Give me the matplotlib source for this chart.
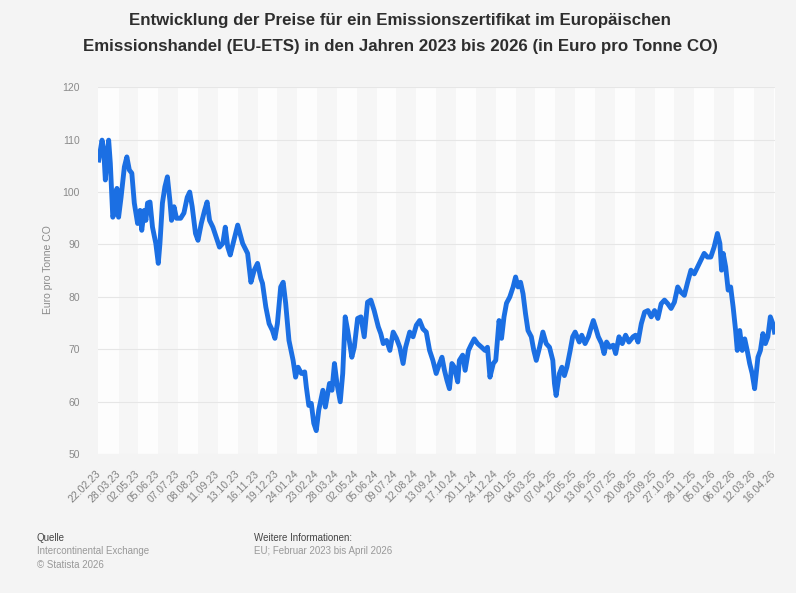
import numpy as np
import matplotlib
matplotlib.use("Agg")
from matplotlib import pyplot as plt
from matplotlib import font_manager

# Handelstag (Index ab 22.02.2023) und Preis in Euro pro Tonne
handelstag = [
    0, 4, 6, 8, 10, 12, 14, 17, 19, 22,
    24, 27, 31, 34, 37, 40, 43, 47, 50, 52,
    55, 57, 59, 62, 65, 69, 72, 74, 77, 80,
    83, 86, 88, 91, 94, 99, 103, 107, 110, 113,
    117, 120, 124, 128, 131, 134, 138, 142, 146, 150,
    153, 156, 159, 168, 174, 180, 184, 188, 192, 196,
    198, 202, 206, 210, 213, 216, 220, 223, 226, 230,
    235, 238, 241, 245, 249, 251, 254, 257, 260, 263,
    266, 271, 274, 279, 282, 285, 288, 292, 295, 298,
    301, 306, 309, 313, 317, 321, 325, 329, 333, 338,
    341, 344, 348, 352, 356, 360, 364, 368, 371, 376,
    380, 384, 388, 392, 396, 400, 404, 408, 412, 415,
    418, 421, 424, 427, 430, 434, 436, 440, 443, 447,
    450, 454, 458, 463, 467, 470, 473, 477, 480, 484,
    487, 490, 493, 497, 501, 504, 507, 510, 513, 516,
    519, 523, 526, 529, 533, 537, 541, 545, 549, 551,
    553, 557, 560, 563, 566, 570, 573, 576, 581, 584,
    588, 592, 595, 598, 601, 604, 608, 611, 614, 618,
    622, 625, 629, 633, 637, 641, 646, 649, 652, 656,
    660, 664, 668, 672, 676, 680, 684, 688, 692, 696,
    700, 704, 708, 712, 716, 720, 724, 728, 732, 736,
    740, 744, 748, 751, 753, 755, 758, 761, 764, 767,
    770, 772, 775, 778, 781, 784, 787, 790, 793, 797,
    800, 803, 806, 809, 812, 815, 817,
]
preis = [
    106.1, 109.9, 108.0, 102.3, 106.7, 109.9, 105.5, 95.2, 96.0, 100.7,
    95.2, 99.0, 104.8, 106.7, 104.2, 103.6, 97.9, 94.0, 96.5, 92.7,
    96.5, 94.6, 97.9, 98.1, 93.3, 90.2, 86.4, 90.2, 97.9, 101.0,
    102.9, 98.4, 94.6, 97.2, 95.0, 95.0, 96.0, 99.0, 100.0, 97.2,
    92.1, 90.8, 94.0, 96.5, 98.1, 94.6, 93.3, 91.4, 89.5, 90.2,
    93.3, 89.5, 88.0, 93.7, 90.2, 88.3, 82.8, 85.1, 86.4, 83.5,
    82.6, 78.1, 74.9, 73.6, 72.1, 74.9, 81.9, 82.8, 78.8, 71.7,
    67.9, 64.7, 66.6, 65.4, 65.7, 62.8, 59.3, 59.7, 55.9, 54.5,
    58.4, 62.2, 59.0, 63.5, 62.2, 67.3, 63.5, 60.0, 65.4, 76.2,
    73.6, 68.5, 70.4, 75.9, 76.2, 72.4, 79.0, 79.4, 77.4, 74.3,
    73.0, 71.1, 71.7, 69.8, 73.3, 72.1, 70.4, 67.3, 70.4, 73.3,
    72.4, 74.6, 75.5, 73.9, 73.3, 69.8, 67.9, 65.4, 67.3, 68.5,
    66.0, 64.1, 62.5, 67.3, 66.6, 63.8, 67.9, 68.9, 66.0, 69.8,
    70.8, 72.0, 71.1, 70.4, 69.8, 70.4, 64.7, 67.3, 67.9, 75.5,
    72.1, 76.2, 78.8, 80.0, 81.9, 83.8, 81.9, 82.8, 80.6, 76.8,
    73.6, 72.4, 69.8, 67.9, 70.4, 73.3, 71.1, 70.4, 67.9, 63.5,
    61.2, 65.4, 66.6, 65.0, 66.6, 69.8, 72.4, 73.3, 71.4, 72.7,
    71.1, 72.4, 74.0, 75.5, 74.0, 72.4, 71.1, 69.2, 71.4, 70.4,
    70.8, 69.2, 72.4, 71.1, 72.7, 71.4, 72.4, 72.7, 71.4, 74.9,
    77.1, 77.4, 76.2, 77.4, 75.9, 78.7, 79.4, 78.7, 77.8, 79.0,
    81.9, 80.9, 80.3, 82.8, 85.1, 84.4, 85.7, 87.0, 88.3, 87.6,
    87.6, 89.5, 92.1, 90.2, 85.1, 88.3, 85.7, 81.3, 81.9, 78.1,
    73.6, 69.8, 73.6, 69.8, 72.0, 69.8, 67.3, 65.4, 62.5, 68.5,
    69.8, 73.0, 71.1, 72.4, 76.2, 74.9, 73.3,
]

tick_labels = [
    "22.02.23", "28.03.23", "02.05.23", "05.06.23", "07.07.23", "08.08.23", "11.09.23",
    "13.10.23", "16.11.23", "19.12.23", "24.01.24", "23.02.24", "28.03.24", "02.05.24",
    "05.06.24", "09.07.24", "12.08.24", "13.09.24", "17.10.24", "20.11.24", "24.12.24",
    "29.01.25", "04.03.25", "07.04.25", "12.05.25", "13.06.25", "17.07.25", "20.08.25",
    "23.09.25", "27.10.25", "28.11.25", "05.01.26", "06.02.26", "12.03.26", "16.04.26",
]
tick_step = 24

names = {f.name for f in font_manager.fontManager.ttflist}
title_font = "Liberation Sans Narrow" if "Liberation Sans Narrow" in names else "Liberation Sans"
plt.rcParams["font.family"] = ["Liberation Sans", "DejaVu Sans"]

fig = plt.figure(figsize=(7.96, 5.93), dpi=100, facecolor="#f4f4f4")
ax = fig.add_axes([0.123, 0.234, 0.851, 0.619])
ax.set_facecolor("#fdfdfd")

ticks = np.arange(len(tick_labels)) * tick_step
xmax = handelstag[-1] + 1
# faint alternating bands
edges = list(ticks) + [xmax]
for i in range(len(edges) - 1):
    if i % 2 == 1:
        ax.axvspan(edges[i], edges[i + 1], color="#f6f6f6", lw=0, zorder=0)

ax.plot(handelstag, preis, color="#1b6fe3", lw=3.5, solid_joinstyle="round", zorder=3)

ax.set_xlim(-1, xmax)
ax.set_ylim(50, 120)
ax.set_yticks(range(50, 121, 10))
ax.yaxis.grid(True, color="#e6e6e6", lw=0.8)
ax.set_axisbelow(True)
ax.set_xticks(ticks)
ax.set_xticklabels(tick_labels, rotation=45, ha="right", va="center", rotation_mode="anchor")
ax.tick_params(axis="x", length=0, pad=13, labelsize=7.5, labelcolor="#808080")
ax.tick_params(axis="y", length=0, pad=13, labelsize=7.5, labelcolor="#8a8a8a")
for s in ax.spines.values():
    s.set_visible(False)

fig.text(0.060, 0.545, "Euro pro Tonne CO", rotation=90, ha="center", va="center",
         fontsize=7.5, color="#8a8a8a")

fig.text(0.503, 0.966, "Entwicklung der Preise für ein Emissionszertifikat im Europäischen",
         ha="center", va="center", fontsize=12.2, fontweight="bold", color="#2e2e2e",
         family=title_font)
fig.text(0.503, 0.922, "Emissionshandel (EU-ETS) in den Jahren 2023 bis 2026 (in Euro pro Tonne CO)",
         ha="center", va="center", fontsize=12.2, fontweight="bold", color="#2e2e2e",
         family=title_font)

fig.text(0.046, 0.093, "Quelle", fontsize=7, color="#444444", va="center")
fig.text(0.046, 0.070, "Intercontinental Exchange", fontsize=7, color="#999999", va="center")
fig.text(0.046, 0.048, "© Statista 2026", fontsize=7, color="#999999", va="center")
fig.text(0.319, 0.093, "Weitere Informationen:", fontsize=7, color="#444444", va="center")
fig.text(0.319, 0.070, "EU; Februar 2023 bis April 2026", fontsize=7, color="#999999", va="center")

fig.savefig("out.png", dpi=100, facecolor=fig.get_facecolor())
